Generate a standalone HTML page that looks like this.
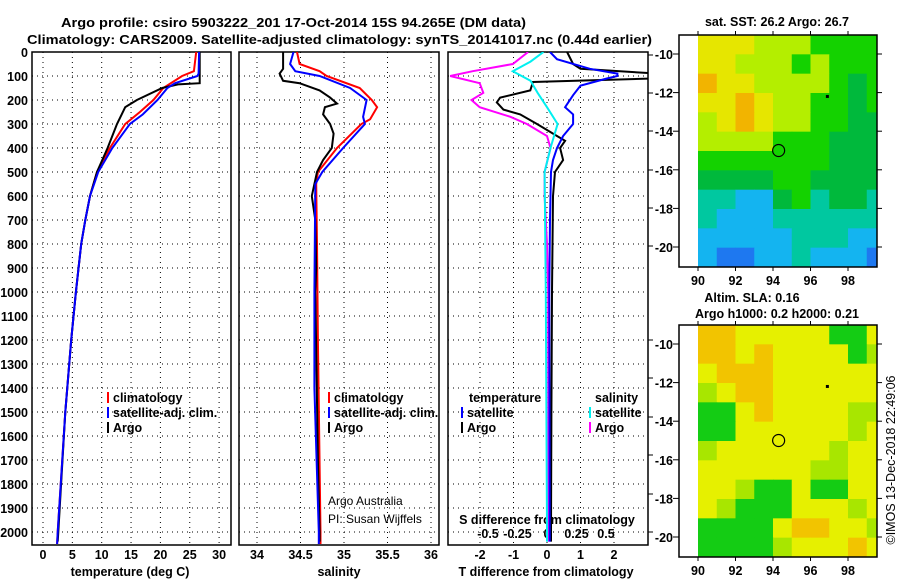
<!DOCTYPE html>
<html><head><meta charset="utf-8"><style>
body{margin:0;background:#fff}
svg{display:block;font-family:"Liberation Sans",sans-serif}
.t{font-weight:bold;font-size:12.5px;fill:#000}
</style></head><body>
<svg id="c" width="900" height="580" viewBox="0 0 900 580" xmlns="http://www.w3.org/2000/svg">
<text class="t" x="61" y="27" font-size="14" textLength="465" lengthAdjust="spacingAndGlyphs">Argo profile: csiro 5903222_201 17-Oct-2014 15S 94.265E (DM data)</text>
<text class="t" x="27" y="44" font-size="14" textLength="625" lengthAdjust="spacingAndGlyphs">Climatology: CARS2009. Satellite-adjusted climatology: synTS_20141017.nc (0.44d earlier)</text>
<g id="g"></g>
</svg>
<script>
// ---- data ----
const depthTicks=[0,100,200,300,400,500,600,700,800,900,1000,1100,1200,1300,1400,1500,1600,1700,1800,1900,2000];
const tempTicks=[0,5,10,15,20,25,30];
const salTicks=[34,34.5,35,35.5,36];
const tdTicks=[-2,-1,0,1,2];
const sdTicks=[-0.5,-0.25,0,0.25,0.5];
const sdTickLabels=["-0.5","-0.25","0","0.25","0.5"];
const tClimD=[0,80,100,150,200,250,300,400,500,600,700,800,1000,1200,1500,2000,2050];
const tClim=[26.1,25.7,23.7,20.5,18.8,16.5,14,11.4,9.2,8.0,7.2,6.5,5.6,4.8,3.8,2.5,2.4];
const tSatD=[0,90,100,130,150,200,260,300,400,500,600,700,800,1000,1200,1500,2000,2050];
const tSat=[26.6,26.5,26.3,22.5,21.2,19.5,17,14.8,11.8,9.4,8.0,7.2,6.5,5.6,4.8,3.8,2.5,2.4];
const tArgoD=[0,130,135,150,200,230,300,400,500,600,700,800,1000,1200,1500,2000,2040];
const tArgo=[26.7,26.7,23,20.3,16,14,12.6,11,9.2,8.0,7.2,6.5,5.6,4.8,3.8,2.6,2.5];
const sClimD=[0,50,80,100,150,200,230,280,300,400,500,550,800,1200,2000,2050];
const sClim=[34.46,34.49,34.72,34.8,35.18,35.32,35.38,35.3,35.2,34.92,34.7,34.68,34.69,34.7,34.73,34.73];
const sSatD=[0,50,80,100,150,200,270,300,400,500,550,1000,1400,2000,2050];
const sSat=[34.42,34.38,34.44,34.72,35.07,35.26,35.22,35.24,34.99,34.75,34.67,34.66,34.66,34.71,34.71];
const sArgoD=[0,70,90,120,130,160,190,215,230,260,300,340,400,450,500,600,700,900,1000,1700,2000,2040];
const sArgo=[34.3,34.3,34.26,34.3,34.49,34.72,34.84,34.92,34.78,34.76,34.84,34.88,34.86,34.76,34.69,34.63,34.67,34.68,34.67,34.7,34.72,34.72];
const dTSatD=[0,30,70,90,100,110,140,180,230,260,300,350,400,450,500,700,1000,2000,2040];
const dTSat=[0.09,0.3,1.28,2.1,2.1,1.8,1.0,0.78,0.54,0.78,0.78,0.48,0.3,0.18,0.12,0.09,0.07,0.08,0.08];
const dTArgoD=[0,50,70,90,110,125,160,190,210,240,260,300,350,370,400,450,500,600,1000,1500,2000,2040];
const dTArgo=[0.6,0.78,1.0,3.3,3.3,-0.42,-0.5,-1.4,-1.5,-1.3,-0.8,-0.3,0.3,0.54,0.39,0.48,0.24,0.18,0.15,0.13,0.12,0.12];
const dSSatD=[0,40,80,120,170,230,300,400,500,1000,2000,2040];
const dSSat=[-0.03,-0.14,-0.29,-0.14,-0.08,0,0.09,0.03,-0.02,-0.01,0,0];
const dSArgoD=[0,50,80,100,130,170,200,230,270,300,350,400,500,600,800,1000,2000,2040];
const dSArgo=[-0.16,-0.29,-0.63,-0.82,-0.57,-0.54,-0.64,-0.57,-0.31,-0.17,0,0.03,-0.02,-0.02,0,0.01,0.01,0.01];
const lonTicks=[90,92,94,96,98];
const latTicks=[-10,-12,-14,-16,-18,-20];
const sstGrid=["YYYLLLGGGG","YYLLLGLGGG","OYYLLLLGDG","YYOYLLGGDG","LYOYLLGGDD","LLLLGGGDDD","GGGGGGGDDD","DDDDGGDDDD","TTCCDGTDDT","TCCCTTTTTT","CCCCCTTTCC","CBBCCTCCCB"];
const slaGrid=["OOYYYYYGGY","OOYOYYYYGL","YOOOYYYYYY","LYOOYYYYYY","GGYOYYYYLL","GGYYYYYYLY","LYYYYYYLYY","YYYYYYLLYY","YYLGGYGGYY","YLGGGYYYLY","GGGGYOOYYL","GGGGLYYYOY"];
const sstColors={O:"#f2b400",Y:"#e6e600",L:"#b4ee00",G:"#14d200",D:"#00b93c",T:"#00c8a0",C:"#14b4f0",B:"#1e78f0"};
const slaColors={O:"#f2c400",Y:"#e6f000",L:"#a8e600",G:"#14cc14"};
// ---- drawing ----
const NS="http://www.w3.org/2000/svg", G=document.getElementById('g');
function el(t,a,p){const e=document.createElementNS(NS,t);for(const k in a)e.setAttribute(k,a[k]);(p||G).appendChild(e);return e;}
const Y0=52, YS=0.24, YB=545;
const yD=d=>Y0+d*YS;
const xT=v=>43+v*5.87, xS=v=>257+(v-34)*87, xDT=v=>547+v*33.5, xDS=v=>547+v*118;
const panels=[{x0:32,x1:231,n:'temperature'},{x0:239,x1:439,n:'salinity'},{x0:448,x1:648,n:'difference'}];
panels.forEach((p,i)=>{
 const f=el('rect',{x:p.x0,y:Y0,width:p.x1-p.x0,height:YB-Y0,fill:'none',stroke:'#000','stroke-width':1.5});
 
 
 depthTicks.forEach(d=>{ if(d>0){const l=el('line',{x1:p.x0,x2:p.x1,y1:yD(d),y2:yD(d),stroke:'#000','stroke-dasharray':'1,4'});
 
 }});
});
depthTicks.forEach(d=>{const t=el('text',{x:28,y:yD(d)+5,'text-anchor':'end',class:'t'});t.textContent=d;
 
 });
function vgrid(ticks,fx,y0,y1){ticks.forEach(v=>{const l=el('line',{x1:fx(v),x2:fx(v),y1:y0,y2:y1,stroke:'#000','stroke-dasharray':'1,4'});
 
 });}
function xlabels(ticks,labs,fx,y){ticks.forEach((v,i)=>{const t=el('text',{x:fx(v),y:y,'text-anchor':'middle',class:'t'});t.textContent=labs?labs[i]:v;
 
 });}
vgrid(tempTicks,xT,Y0,YB); xlabels(tempTicks,null,xT,559);
vgrid(salTicks,xS,Y0,YB); xlabels(salTicks,null,xS,559);
vgrid(tdTicks,xDT,Y0,YB); xlabels(tdTicks,null,xDT,559);
xlabels(sdTicks,sdTickLabels,xDS,538);
[[130,'temperature (deg C)'],[339,'salinity'],[546,'T difference from climatology']].forEach(a=>{const t=el('text',{x:a[0],y:576,'text-anchor':'middle',class:'t'});t.textContent=a[1];
 
 });
const sdt=el('text',{x:547,y:524,'text-anchor':'middle',class:'t'});sdt.textContent='S difference from climatology';


const defs=el('defs',{});
panels.forEach((p,i)=>{const c=el('clipPath',{id:'cp'+i},defs);el('rect',{x:p.x0,y:Y0,width:p.x1-p.x0,height:YB-Y0},c);});
function line(ds,vs,fx,col,name,ci){const pts=ds.map((d,i)=>fx(vs[i]).toFixed(1)+','+yD(d).toFixed(1)).join(' ');
 const l=el('polyline',{points:pts,fill:'none',stroke:col,'stroke-width':2,'clip-path':'url(#cp'+ci+')'});
 
 }
line(tClimD,tClim,xT,'#f00','temp-climatology-line',0);
line(tArgoD,tArgo,xT,'#000','temp-argo-line',0);
line(tSatD,tSat,xT,'#0000ff','temp-satellite-line',0);
line(sClimD,sClim,xS,'#f00','sal-climatology-line',1);
line(sArgoD,sArgo,xS,'#000','sal-argo-line',1);
line(sSatD,sSat,xS,'#0000ff','sal-satellite-line',1);
line(dSArgoD,dSArgo,xDS,'#ff00ff','sdiff-argo-line',2);
line(dTArgoD,dTArgo,xDT,'#000','tdiff-argo-line',2);
line(dSSatD,dSSat,xDS,'#00f0f0','sdiff-satellite-line',2);
line(dTSatD,dTSat,xDT,'#0000ff','tdiff-satellite-line',2);
function leg(x,y,col,txt){el('line',{x1:x,x2:x,y1:y-10,y2:y+1,stroke:col,'stroke-width':2});const t=el('text',{x:x+5,y:y,class:'t'});t.textContent=txt;
 
 }
leg(108,402,'#f00','climatology');leg(108,417,'#00f','satellite-adj. clim.');leg(108,432,'#000','Argo');
leg(329,402,'#f00','climatology');leg(329,417,'#00f','satellite-adj. clim.');leg(329,432,'#000','Argo');
let lt=el('text',{x:469,y:402,class:'t'});lt.textContent='temperature';

lt=el('text',{x:595,y:402,class:'t'});lt.textContent='salinity';

leg(462,417,'#00f','satellite');leg(462,432,'#000','Argo');
leg(590,417,'#00f0f0','satellite');leg(590,432,'#f0f','Argo');
[['Argo Australia',328,553-48],['PI: Susan Wijffels',328,523]].forEach(a=>{const t=el('text',{x:a[1],y:a[2],'font-size':12,fill:'#000'});t.textContent=a[0];
 
 });
[55,93,131,170,208,246,340,378,417,455,494,532].forEach(y=>el('line',{x1:648,x2:653,y1:y,y2:y,stroke:'#000'}));
function map(top,grid,cols,name,title1){
 const bot=top+232, lx=v=>698+(v-90)*18.75, ly=v=>top+19+(-10-v)*19.3;
 const cw=18.75, rh=(bot-top)/grid.length;
 grid.forEach((row,r)=>{[...row].forEach((ch,c)=>{const w=Math.min(cw,877-(698+c*cw));
  const cell=el('rect',{x:698+c*cw,y:top+r*rh,width:w+0.5,height:rh+0.5,fill:cols[ch]});
  
  });});
 const f=el('rect',{x:679,y:top,width:198,height:bot-top,fill:'none',stroke:'#000','stroke-width':1.5});
 
 
 lonTicks.forEach(v=>{el('line',{x1:lx(v),x2:lx(v),y1:top,y2:top-4,stroke:'#000'});el('line',{x1:lx(v),x2:lx(v),y1:bot,y2:bot+4,stroke:'#000'});
  const t=el('text',{x:lx(v),y:bot+18,'text-anchor':'middle',class:'t'});t.textContent=v;
  });
 latTicks.forEach(v=>{el('line',{x1:673,x2:679,y1:ly(v),y2:ly(v),stroke:'#000'});el('line',{x1:877,x2:882,y1:ly(v),y2:ly(v),stroke:'#000'});
  const t=el('text',{x:673,y:ly(v)+5,'text-anchor':'end',class:'t'});t.textContent=v;
  });
 const c=el('circle',{cx:lx(94.3),cy:ly(-15),r:6,fill:'none',stroke:'#000','stroke-width':1.2});
 
 el('rect',{x:lx(96.9)-1.5,y:ly(-12.2)-1.5,width:3,height:3,fill:'#000'});
 title1.forEach(a=>{const t=el('text',{x:a[1],y:a[2],'text-anchor':'middle',class:'t'});t.textContent=a[0];
  });
}
map(35,sstGrid,sstColors,'sst-map',[['sat. SST: 26.2 Argo: 26.7',777,26]]);
map(325,slaGrid,slaColors,'sla-map',[['Altim. SLA: 0.16',752,302],['Argo h1000: 0.2 h2000: 0.21',777,318]]);
const im=el('text',{x:0,y:0,'font-size':12.5,fill:'#000','text-anchor':'middle',transform:'translate(895,460) rotate(-90)'});im.textContent='©IMOS 13-Dec-2018 22:49:06';


</script>
</body></html>
